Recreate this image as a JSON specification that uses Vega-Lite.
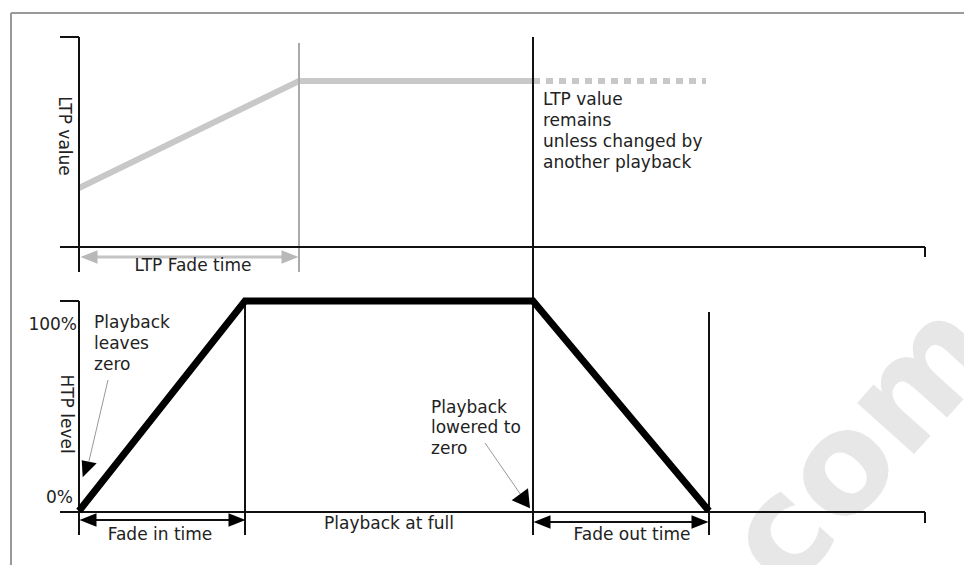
{
  "$schema": "https://vega.github.io/schema/vega-lite/v6.json",
  "width": 964,
  "height": 565,
  "autosize": "none",
  "padding": 0,
  "background": "white",
  "config": {"view": {"stroke": null}, "text": {"font": "DejaVu Sans", "fontSize": 17, "color": "#222222", "baseline": "middle"}},
  "datasets": {
    "frame": [{"x": 11, "y": 13, "x2": 11, "y2": 565}, {"x": 11, "y": 13, "x2": 964, "y2": 13}],
    "axes": [
      {"x": 79, "y": 37, "x2": 79, "y2": 272},
      {"x": 60, "y": 37, "x2": 79, "y2": 37},
      {"x": 60, "y": 247, "x2": 925, "y2": 247},
      {"x": 925, "y": 247, "x2": 925, "y2": 257},
      {"x": 533, "y": 37, "x2": 533, "y2": 535},
      {"x": 79, "y": 301, "x2": 79, "y2": 535},
      {"x": 60, "y": 301, "x2": 79, "y2": 301},
      {"x": 60, "y": 512, "x2": 925, "y2": 512},
      {"x": 925, "y": 512, "x2": 925, "y2": 523},
      {"x": 245, "y": 301, "x2": 245, "y2": 535},
      {"x": 709, "y": 312, "x2": 709, "y2": 535},
      {"x": 90, "y": 520, "x2": 235, "y2": 520},
      {"x": 545, "y": 522, "x2": 698, "y2": 522}
    ],
    "grayRules": [{"x": 299, "y": 43, "x2": 299, "y2": 272}],
    "grayShaft": [{"x": 92, "y": 257, "x2": 288, "y2": 257}],
    "pointers": [{"x": 108, "y": 380, "x2": 89, "y2": 461}, {"x": 485, "y": 443, "x2": 521, "y2": 495}],
    "ltp": [{"i": 0, "x": 79, "y": 188}, {"i": 1, "x": 299, "y": 81}, {"i": 2, "x": 533, "y": 81}],
    "ltpHeld": [{"i": 0, "x": 533, "y": 81}, {"i": 1, "x": 706, "y": 81}],
    "htp": [{"i": 0, "x": 79, "y": 511}, {"i": 1, "x": 245, "y": 301}, {"i": 2, "x": 533, "y": 301}, {"i": 3, "x": 709, "y": 511}],
    "headsLeft": [{"x": 88, "y": 520}, {"x": 542, "y": 522}],
    "headsRight": [{"x": 237, "y": 520}, {"x": 700, "y": 522}],
    "grayHeadsLeft": [{"x": 89, "y": 257}],
    "grayHeadsRight": [{"x": 290, "y": 257}],
    "pointerHead1": [{"x": 87, "y": 467}],
    "pointerHead2": [{"x": 523, "y": 499}],
    "notes": [
      {"x": 543, "y": 100, "t": "LTP value"},
      {"x": 543, "y": 121, "t": "remains"},
      {"x": 543, "y": 142, "t": "unless changed by"},
      {"x": 543, "y": 163, "t": "another playback"},
      {"x": 94, "y": 323, "t": "Playback"},
      {"x": 94, "y": 344, "t": "leaves"},
      {"x": 94, "y": 365, "t": "zero"},
      {"x": 431, "y": 408, "t": "Playback"},
      {"x": 431, "y": 428, "t": "lowered to"},
      {"x": 431, "y": 449, "t": "zero"}
    ],
    "centred": [
      {"x": 193, "y": 266, "t": "LTP Fade time"},
      {"x": 160, "y": 535, "t": "Fade in time"},
      {"x": 389, "y": 524, "t": "Playback at full"},
      {"x": 632, "y": 535, "t": "Fade out time"}
    ],
    "ticks": [{"x": 77, "y": 325, "t": "100%"}, {"x": 73, "y": 498, "t": "0%"}],
    "rotated": [{"x": 64, "y": 136, "t": "LTP value"}, {"x": 66, "y": 414, "t": "HTP level"}],
    "watermark": [{"x": 864, "y": 447, "t": "com"}]
  },
  "layer": [
    {
      "data": {"name": "watermark"},
      "mark": {"type": "text", "angle": -48, "fontSize": 140, "fontWeight": "bold", "color": "#e7e7e7", "align": "center"},
      "encoding": {
        "x": {"field": "x", "type": "quantitative", "scale": {"domain": [0, 964], "nice": false, "zero": false}, "axis": null},
        "y": {"field": "y", "type": "quantitative", "scale": {"domain": [0, 565], "nice": false, "zero": false, "reverse": true}, "axis": null},
        "text": {"field": "t"}
      }
    },
    {
      "data": {"name": "frame"},
      "mark": {"type": "rule", "color": "#999999", "strokeWidth": 2},
      "encoding": {"x": {"field": "x", "type": "quantitative"}, "y": {"field": "y", "type": "quantitative"}, "x2": {"field": "x2"}, "y2": {"field": "y2"}}
    },
    {
      "data": {"name": "ltp"},
      "mark": {"type": "line", "color": "#c8c8c8", "strokeWidth": 6, "strokeJoin": "miter"},
      "encoding": {"x": {"field": "x", "type": "quantitative"}, "y": {"field": "y", "type": "quantitative"}, "order": {"field": "i"}}
    },
    {
      "data": {"name": "ltpHeld"},
      "mark": {"type": "line", "color": "#c8c8c8", "strokeWidth": 6, "strokeDash": [7, 6]},
      "encoding": {"x": {"field": "x", "type": "quantitative"}, "y": {"field": "y", "type": "quantitative"}, "order": {"field": "i"}}
    },
    {
      "data": {"name": "grayRules"},
      "mark": {"type": "rule", "color": "#aaaaaa", "strokeWidth": 2},
      "encoding": {"x": {"field": "x", "type": "quantitative"}, "y": {"field": "y", "type": "quantitative"}, "x2": {"field": "x2"}, "y2": {"field": "y2"}}
    },
    {
      "data": {"name": "grayShaft"},
      "mark": {"type": "rule", "color": "#c4c4c4", "strokeWidth": 3},
      "encoding": {"x": {"field": "x", "type": "quantitative"}, "y": {"field": "y", "type": "quantitative"}, "x2": {"field": "x2"}, "y2": {"field": "y2"}}
    },
    {
      "data": {"name": "grayHeadsLeft"},
      "mark": {"type": "point", "filled": true, "opacity": 1, "color": "#b8b8b8", "size": 289, "shape": "M-1,0L1,-0.8L1,0.8Z"},
      "encoding": {"x": {"field": "x", "type": "quantitative"}, "y": {"field": "y", "type": "quantitative"}}
    },
    {
      "data": {"name": "grayHeadsRight"},
      "mark": {"type": "point", "filled": true, "opacity": 1, "color": "#b8b8b8", "size": 289, "shape": "M1,0L-1,-0.8L-1,0.8Z"},
      "encoding": {"x": {"field": "x", "type": "quantitative"}, "y": {"field": "y", "type": "quantitative"}}
    },
    {
      "data": {"name": "axes"},
      "mark": {"type": "rule", "color": "#111111", "strokeWidth": 2},
      "encoding": {"x": {"field": "x", "type": "quantitative"}, "y": {"field": "y", "type": "quantitative"}, "x2": {"field": "x2"}, "y2": {"field": "y2"}}
    },
    {
      "data": {"name": "htp"},
      "mark": {"type": "line", "color": "#000000", "strokeWidth": 7, "strokeJoin": "miter"},
      "encoding": {"x": {"field": "x", "type": "quantitative"}, "y": {"field": "y", "type": "quantitative"}, "order": {"field": "i"}}
    },
    {
      "data": {"name": "pointers"},
      "mark": {"type": "rule", "color": "#999999", "strokeWidth": 1},
      "encoding": {"x": {"field": "x", "type": "quantitative"}, "y": {"field": "y", "type": "quantitative"}, "x2": {"field": "x2"}, "y2": {"field": "y2"}}
    },
    {
      "data": {"name": "headsLeft"},
      "mark": {"type": "point", "filled": true, "opacity": 1, "color": "#000000", "size": 289, "shape": "M-1,0L1,-0.8L1,0.8Z"},
      "encoding": {"x": {"field": "x", "type": "quantitative"}, "y": {"field": "y", "type": "quantitative"}}
    },
    {
      "data": {"name": "headsRight"},
      "mark": {"type": "point", "filled": true, "opacity": 1, "color": "#000000", "size": 289, "shape": "M1,0L-1,-0.8L-1,0.8Z"},
      "encoding": {"x": {"field": "x", "type": "quantitative"}, "y": {"field": "y", "type": "quantitative"}}
    },
    {
      "data": {"name": "pointerHead1"},
      "mark": {"type": "point", "filled": true, "opacity": 1, "color": "#000000", "size": 400, "shape": "M-0.43,1.03L-0.53,-0.67L0.97,-0.37Z"},
      "encoding": {"x": {"field": "x", "type": "quantitative"}, "y": {"field": "y", "type": "quantitative"}}
    },
    {
      "data": {"name": "pointerHead2"},
      "mark": {"type": "point", "filled": true, "opacity": 1, "color": "#000000", "size": 400, "shape": "M0.7,0.93L-1.13,0.13L0.5,-1.07Z"},
      "encoding": {"x": {"field": "x", "type": "quantitative"}, "y": {"field": "y", "type": "quantitative"}}
    },
    {
      "data": {"name": "notes"},
      "mark": {"type": "text", "align": "left"},
      "encoding": {"x": {"field": "x", "type": "quantitative"}, "y": {"field": "y", "type": "quantitative"}, "text": {"field": "t"}}
    },
    {
      "data": {"name": "centred"},
      "mark": {"type": "text", "align": "center"},
      "encoding": {"x": {"field": "x", "type": "quantitative"}, "y": {"field": "y", "type": "quantitative"}, "text": {"field": "t"}}
    },
    {
      "data": {"name": "ticks"},
      "mark": {"type": "text", "align": "right"},
      "encoding": {"x": {"field": "x", "type": "quantitative"}, "y": {"field": "y", "type": "quantitative"}, "text": {"field": "t"}}
    },
    {
      "data": {"name": "rotated"},
      "mark": {"type": "text", "align": "center", "angle": 90},
      "encoding": {"x": {"field": "x", "type": "quantitative"}, "y": {"field": "y", "type": "quantitative"}, "text": {"field": "t"}}
    }
  ]
}
